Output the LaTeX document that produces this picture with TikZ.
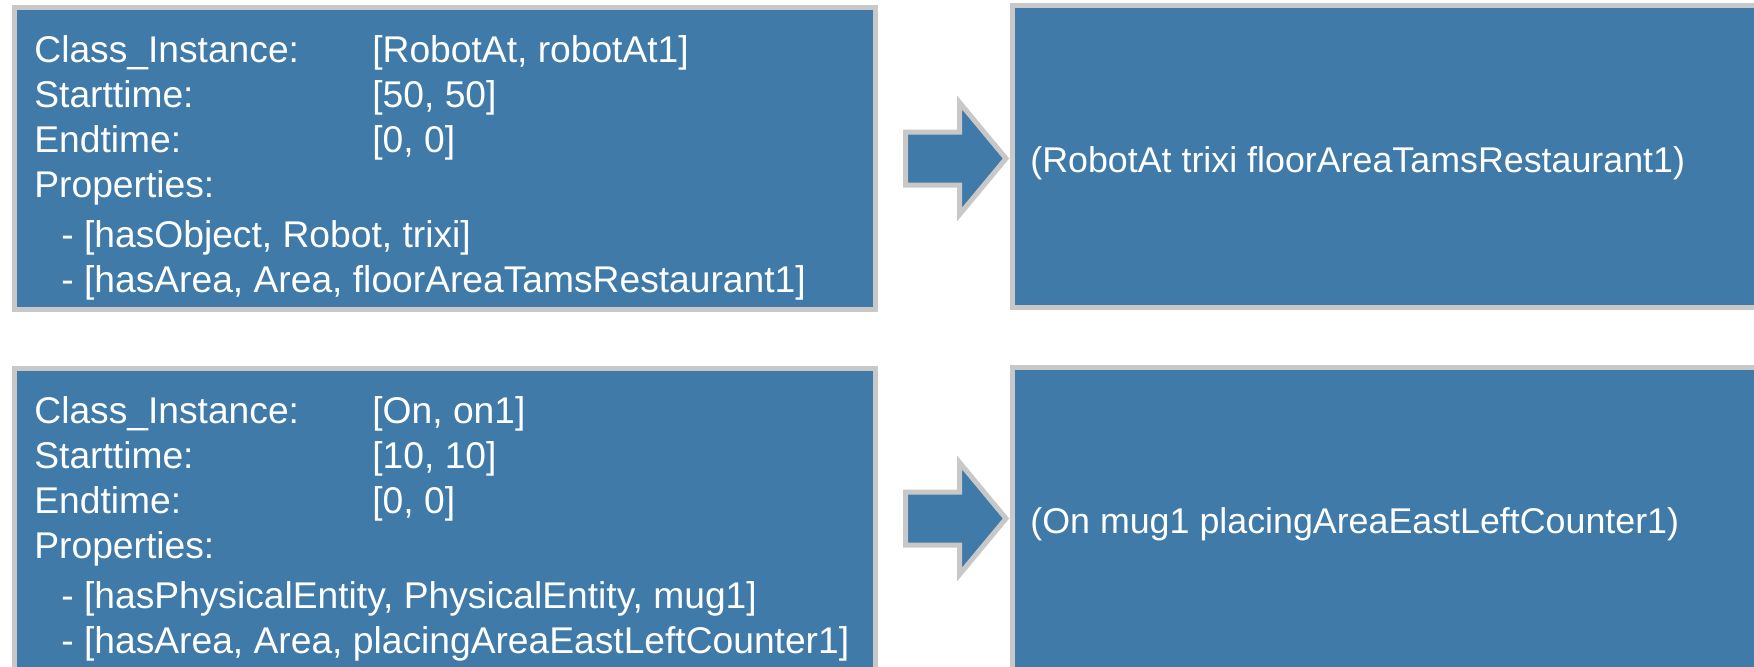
\documentclass[tikz,border=0pt]{standalone}
\usepackage{fontspec}
\setmainfont{Liberation Sans}
\usetikzlibrary{positioning}

\definecolor{slotblue}{RGB}{63,122,168}
\definecolor{rimgray}{RGB}{200,200,200}
\newcommand{\slotrow}[2]{\makebox[169pt][l]{#1}#2}

\begin{document}
\begin{tikzpicture}[x=0.5pt,y=-0.5pt,
    panel/.style={draw=rimgray, fill=slotblue, line width=2.5pt, inner sep=0pt, outer sep=0pt, anchor=north west},
    slottext/.style={text=white, inner sep=0pt, font=\fontsize{18.6}{22.5}\selectfont},
    facttext/.style={text=white, inner sep=0pt, font=\fontsize{17.9}{22}\selectfont},
    blockarrow/.style={draw=rimgray, fill=slotblue, line width=2.5pt, miter limit=10}]
        \useasboundingbox (0,0) rectangle (1754,666);
        \clip (0,0) rectangle (1754,666);

        \node[panel, minimum width=430.5pt, minimum height=151pt] (robotIn) at (14.5,7.5) {};
        \node[panel, minimum width=450pt, minimum height=151pt] (robotOut) at (1012.5,5.5) {};
        \node[panel, minimum width=430.5pt, minimum height=151pt] (onIn) at (14.5,368.5) {};
        \node[panel, minimum width=450pt, minimum height=151pt] (onOut) at (1012.5,367.5) {};

        \node[slottext, align=left, anchor=north west] (robotSlots) at (34,35) {\slotrow{Class\_Instance:}{[RobotAt, robotAt1]}\\ \slotrow{Starttime:}{[50, 50]}\\ \slotrow{Endtime:}{[0, 0]}\\ Properties:\\[2.5pt] \hspace*{13.5pt}- [hasObject, Robot, trixi]\\ \hspace*{13.5pt}- [hasArea, Area, floorAreaTamsRestaurant1]};
        \node[slottext, align=left, anchor=north west] (onSlots) at (34,396) {\slotrow{Class\_Instance:}{[On, on1]}\\ \slotrow{Starttime:}{[10, 10]}\\ \slotrow{Endtime:}{[0, 0]}\\ Properties:\\[2.5pt] \hspace*{13.5pt}- [hasPhysicalEntity, PhysicalEntity, mug1]\\ \hspace*{13.5pt}- [hasArea, Area, placingAreaEastLeftCounter1]};

        \node[facttext, anchor=base west] (robotFact) at (1030,172) {(RobotAt trixi floorAreaTamsRestaurant1)};
        \node[facttext, anchor=base west] (onFact) at (1030,533) {(On mug1 placingAreaEastLeftCounter1)};

        \draw[blockarrow] ([xshift=-3.25pt,yshift=-1pt]robotOut.west) -- ++(-46.5,-56) -- ++(0,29.5) -- ++(-54,0) -- ++(0,53) -- ++(54,0) -- ++(0,29.5) -- cycle;
        \draw[blockarrow] ([xshift=-3.25pt]onOut.west) -- ++(-46.5,-56) -- ++(0,29.5) -- ++(-54,0) -- ++(0,53) -- ++(54,0) -- ++(0,29.5) -- cycle;
    \end{tikzpicture}
\end{document}
